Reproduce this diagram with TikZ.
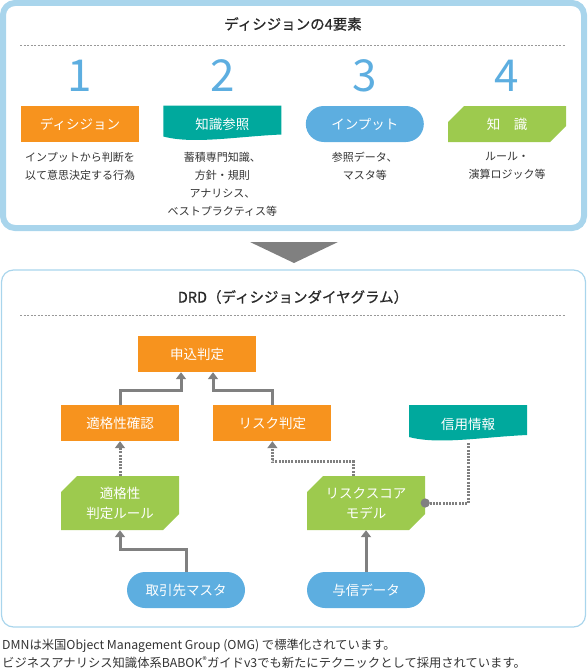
\documentclass[tikz,border=0pt]{standalone}
\usepackage{fontspec}
\setmainfont{Noto Sans CJK JP}
\newfontfamily\headfont[FakeBold=0.8]{Noto Sans CJK JP}
\usepackage{xcolor}
\usepackage{tikz}
\usetikzlibrary{arrows.meta,positioning,calc}

\definecolor{dmnorange}{HTML}{F7931E}
\definecolor{dmnteal}{HTML}{00A99D}
\definecolor{dmnblue}{HTML}{5DAEE0}
\definecolor{dmngreen}{HTML}{9DCA4E}
\definecolor{dmngray}{HTML}{808080}
\definecolor{dmnframe}{HTML}{A9D5EC}
\definecolor{dmntext}{HTML}{333333}

\begin{document}
\begin{tikzpicture}[x=1pt,y=-1pt,
  >={Triangle[width=10pt,length=7pt]},
  box/.style={minimum width=118pt,minimum height=36pt,inner sep=0pt,align=center,text=white,font=\fontsize{13.5}{20}\selectfont},
  dec/.style={box,fill=dmnorange},
  inp/.style={box,fill=dmnblue,rounded corners=18pt},
  know/.style={box,path picture={\fill[dmngreen]
    ([xshift=16pt]path picture bounding box.north west) -- (path picture bounding box.north east)
    -- ([yshift=16pt]path picture bounding box.south east) -- ([xshift=-16pt]path picture bounding box.south east)
    -- (path picture bounding box.south west) -- ([yshift=-16pt]path picture bounding box.north west) -- cycle;}},
  doc/.style={box,minimum height=37pt,path picture={\fill[dmnteal]
    (path picture bounding box.north west) -- (path picture bounding box.north east)
    -- ([yshift=8pt]path picture bounding box.south east)
    .. controls +(-45pt,-2pt) and +(30pt,-8pt) .. ([yshift=6pt]path picture bounding box.south west) -- cycle;}},
  num/.style={inner sep=0pt,text=dmnblue,font=\fontsize{44}{44}\selectfont},
  desc/.style={inner sep=0pt,align=center,text=dmntext,font=\fontsize{11}{18}\selectfont},
  title/.style={inner sep=0pt,text=dmntext!80!black,font=\headfont\fontsize{14.5}{18}\selectfont},
  link/.style={->,draw=dmngray,line width=3pt},
  dep/.style={link,dash pattern=on 2pt off 1.2pt},
  guide/.style={draw=gray!80,line width=0.8pt,dash pattern=on 2pt off 1.5pt}]
\useasboundingbox (0,0) rectangle (587,669);

% panels
\draw[dmnframe,line width=6pt,rounded corners=12pt] (3,3) rectangle (584,228);
\draw[dmnframe,line width=1.2pt,rounded corners=12pt] (1.5,270) rectangle (585.5,627);
\fill[dmngray] (250,242) -- (338,242) -- (294,263) -- cycle;

% four elements
\node[title] (head) at (293,24) {ディシジョンの4要素};
\draw[guide] (20,45) -- (566,45);
\node[dec] (d1) at (80,124) {ディシジョン};
\node[doc,right=24pt of d1] (d2) {知識参照};
\node[inp,right=24pt of d2] (d3) {インプット};
\node[know,right=24pt of d3] (d4) {知　識};
\node[num,above=14pt of d1] (n1) {1};
\node[num,above=14pt of d2.north|-d1.north] (n2) {2};
\node[num,above=14pt of d3] (n3) {3};
\node[num,above=14pt of d4] (n4) {4};
\node[desc,below=10pt of d1] (t1) {インプットから判断を\\以て意思決定する行為};
\node[desc,below=10pt of d2.south|-d1.south] (t2) {蓄積専門知識、\\方針・規則\\アナリシス、\\ベストプラクティス等};
\node[desc,below=10pt of d3] (t3) {参照データ、\\マスタ等};
\node[desc,below=10pt of d4] (t4) {ルール・\\演算ロジック等};

% DRD
\node[title] (drd) at (293,297) {DRD（ディシジョンダイヤグラム）};
\draw[guide] (20,315) -- (566,315);
\node[dec] (app) at (197,354) {申込判定};
\node[dec] (elig) at (120,423) {適格性確認};
\node[dec,right=34pt of elig] (risk) {リスク判定};
\node[doc,minimum height=38pt] (credit) at (468,424) {信用情報};
\node[know,minimum height=54pt] (rule) at (120,503) {適格性\\判定ルール};
\node[know,minimum height=54pt] (model) at (366,503) {リスクスコア\\モデル};
\node[inp] (master) at (186,590) {取引先マスタ};
\node[inp] (loan) at (366,590) {与信データ};
\draw[link] (elig.north) -- ++(0,-14) -| ([xshift=-16pt]app.south);
\draw[link] (risk.north) -- ++(0,-14) -| ([xshift=16pt]app.south);
\draw[dep] (rule.north) -- (elig.south);
\draw[link] (master.north) -- ++(0,-22) -| (rule.south);
\draw[dep] ([xshift=-13pt]model.north) -- ++(0,-14) -| (risk.south);
\draw[dep,-{Circle[length=9pt]},shorten >=-4.5pt] (credit.south) |- (model.east);
\draw[link] (loan.north) -- (model.south);

% note
\node[desc,anchor=north west,align=left,font=\fontsize{12.3}{18}\selectfont] (note) at (2,639)
  {DMNは米国Object Management Group (OMG) で標準化されています。\\ビジネスアナリシス知識体系BABOK\textsuperscript{®}ガイドv3でも新たにテクニックとして採用されています。};
\end{tikzpicture}
\end{document}
